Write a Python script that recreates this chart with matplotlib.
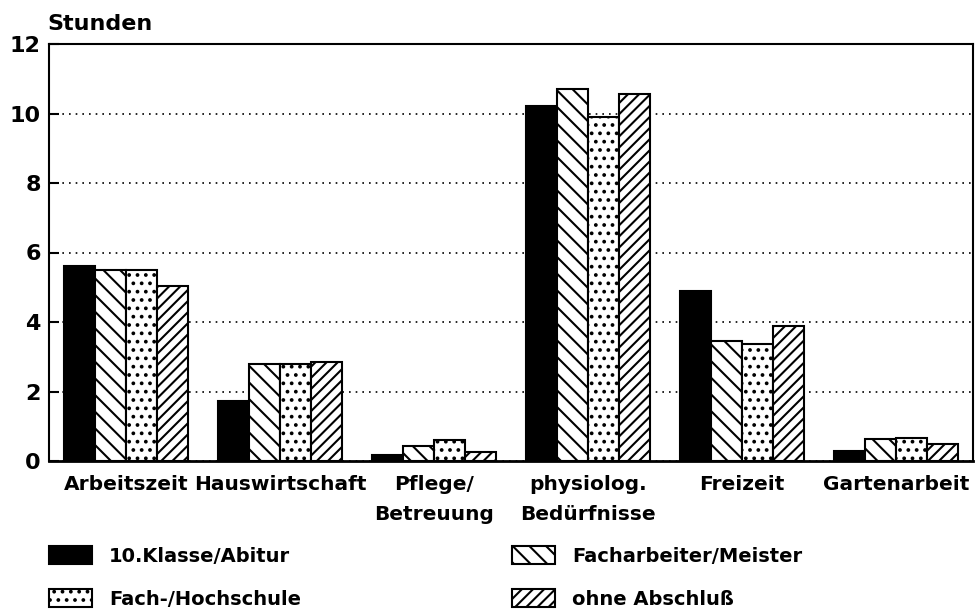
import numpy as np
import matplotlib
matplotlib.use('Agg')
import matplotlib.pyplot as plt
from matplotlib.patches import Patch

# Data (hours per day)
categories = ['Arbeitszeit', 'Hauswirtschaft', 'Pflege/\nBetreuung',
              'physiolog.\nBedürfnisse', 'Freizeit', 'Gartenarbeit']
klasse_abitur = [5.62, 1.73, 0.17, 10.23, 4.88, 0.29]
facharbeiter = [5.50, 2.79, 0.44, 10.70, 3.44, 0.63]
hochschule = [5.50, 2.79, 0.60, 9.91, 3.37, 0.65]
ohne_abschluss = [5.03, 2.85, 0.25, 10.56, 3.88, 0.48]
series_labels = ['10.Klasse/Abitur', 'Facharbeiter/Meister',
                 'Fach-/Hochschule', 'ohne Abschluß']
y_ticks = [0, 2, 4, 6, 8, 10, 12]

plt.rcParams['font.family'] = 'DejaVu Sans'
plt.rcParams['font.weight'] = 'bold'
plt.rcParams['hatch.linewidth'] = 1.5
plt.rcParams['hatch.color'] = 'black'

fig = plt.figure(figsize=(9.78, 6.15), dpi=100)
ax = fig.add_axes([49 / 978, 1 - 461 / 615, (973 - 49) / 978, (461 - 44) / 615])

x = np.arange(len(categories))
w = 0.2
styles = [
    dict(color='black', hatch=None),
    dict(color='white', hatch='\\\\'),
    dict(color='white', hatch='..'),
    dict(color='white', hatch='///'),
]
all_series = [klasse_abitur, facharbeiter, hochschule, ohne_abschluss]
handles = []
for i, (vals, st) in enumerate(zip(all_series, styles)):
    ax.bar(x + (i - 1.5) * w, vals, w, facecolor=st['color'],
           edgecolor='black', linewidth=1.5, hatch=st['hatch'], zorder=3)
    handles.append(Patch(facecolor=st['color'], edgecolor='black',
                         linewidth=1.5, hatch=st['hatch']))

ax.set_xlim(-0.5, len(categories) - 0.5)
ax.set_ylim(0, 12)
ax.set_yticks(y_ticks)
ax.set_yticklabels([str(t) for t in y_ticks], fontsize=16, fontweight='bold')
ax.set_xticks(x)
ax.set_xticklabels(categories, fontsize=14.5, fontweight='bold', linespacing=1.75)
ax.tick_params(axis='x', length=0, pad=10)
ax.tick_params(axis='y', direction='in', length=7, width=1.5, pad=6)

ax.yaxis.grid(True, color='black', linestyle=(0, (1, 3)), linewidth=1.2)
ax.set_axisbelow(True)
for s in ax.spines.values():
    s.set_linewidth(1.5)
ax.spines['bottom'].set_linewidth(2)

fig.text(47 / 978, 1 - 30 / 615, 'Stunden', fontsize=16, fontweight='bold',
         ha='left', va='baseline')

leg_kw = dict(frameon=False, fontsize=14, handlelength=2.2, handleheight=1.05,
              handletextpad=0.9, labelspacing=1.2, borderpad=0, borderaxespad=0,
              loc='upper left')
fig.legend([handles[0], handles[2]], [series_labels[0], series_labels[2]],
           bbox_to_anchor=(49 / 978, 1 - 546 / 615), **leg_kw)
fig.legend([handles[1], handles[3]], [series_labels[1], series_labels[3]],
           bbox_to_anchor=(512 / 978, 1 - 546 / 615), **leg_kw)

fig.savefig('out.png', dpi=100)
